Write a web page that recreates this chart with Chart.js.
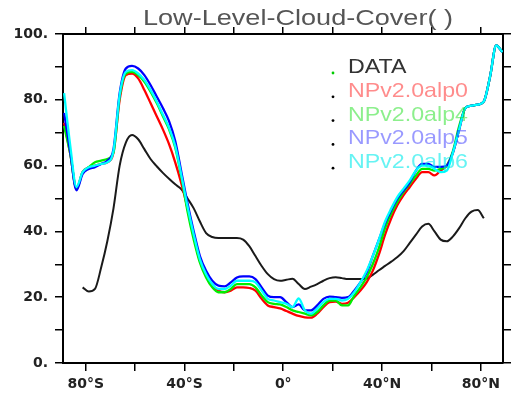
<!DOCTYPE html>
<html>
<head>
<meta charset="utf-8">
<script src="https://cdn.jsdelivr.net/npm/chart.js@4.4.0/dist/chart.umd.min.js"></script>
<style>
  html, body { margin: 0; padding: 0; background: #fff; }
  #wrap { width: 519px; height: 411px; }
</style>
</head>
<body>
<div id="wrap"><canvas id="c" width="519" height="411"></canvas></div>
<script>
// zonal mean low-level cloud cover (%), by latitude
const lats = [-88.75, -86.25, -83.75, -81.25, -78.75, -76.25, -73.75, -71.25, -68.75, -66.25,
  -63.75, -61.25, -58.75, -56.25, -53.75, -51.25, -48.75, -46.25, -43.75, -41.25,
  -38.75, -36.25, -33.75, -31.25, -28.75, -26.25, -23.75, -21.25, -18.75, -16.25,
  -13.75, -11.25, -8.75, -6.25, -3.75, -1.25, 1.25, 3.75, 6.25, 8.75,
  11.25, 13.75, 16.25, 18.75, 21.25, 23.75, 26.25, 28.75, 31.25, 33.75,
  36.25, 38.75, 41.25, 43.75, 46.25, 48.75, 51.25, 53.75, 56.25, 58.75,
  61.25, 63.75, 66.25, 68.75, 71.25, 73.75, 76.25, 78.75, 81.25, 83.75,
  86.25, 88.75];

const obsData = [null, null, null, 23, 21.7, 22.5, 29, 37, 47, 60,
  67, 69.3, 68, 65, 62, 59.8, 57.8, 56, 54.3, 52.8,
  50, 47, 43, 39.5, 38.3, 38, 38, 38, 38, 37.5,
  35.5, 32.5, 29.5, 27, 25.5, 25, 25.3, 25.6, 24, 22.5,
  23.2, 24, 25, 25.8, 26.1, 25.8, 25.5, 25.5, 25.5, 25.7,
  26.8, 28.2, 29.5, 30.8, 32.2, 34, 36.5, 39, 41.5, 42.3,
  40, 37.5, 37, 38.5, 41, 44, 46, 46.5, 44, null,
  null, null];

const alp0 = [73, 63.5, 53, 58, 59.5, 60, 60.5, 61, 64, 80,
  87.5, 88, 86.5, 83, 79, 75, 71, 66.5, 61, 54.5,
  47, 38.5, 31, 26.5, 23.5, 22, 21.5, 22, 23, 23,
  22.8, 22, 19.5, 17.5, 17, 16.6, 15.8, 15, 14.3, 13.9,
  13.8, 15, 17, 18.5, 18.7, 18, 18.3, 20, 22, 24.5,
  28, 33, 39, 44, 48, 51, 53.5, 56, 58, 58,
  57, 58.5, 60, 64, 71, 77.5, 78.2, 78.5, 79.5, 87,
  96.5, 94.5];

const alp4 = [72, 63.5, 53, 58, 59.5, 61, 61.5, 62, 64, 81,
  88, 88.5, 87.5, 85.5, 82.5, 79, 75, 71, 65.5, 56.5,
  46, 37.5, 30.5, 26, 23, 21.5, 21.5, 22.5, 24, 24,
  24, 23, 20.5, 18.5, 18, 17.8, 17, 16, 15.5, 15,
  14.5, 15.5, 17.5, 19, 19, 17.5, 17.5, 20.5, 23, 26,
  30, 35, 41, 45.5, 49, 52, 54.5, 57, 59, 59,
  58.5, 59, 60, 64.5, 72, 77.5, 78.2, 78.5, 79.5, 87,
  96.5, 94.5];

const alp5 = [76, 64, 52.5, 57.5, 59, 59.5, 60.5, 61.5, 65, 82,
  89.5, 90.3, 89.5, 87.5, 84.5, 81, 77.5, 73.5, 67.5, 58,
  48.5, 40, 32.5, 28, 25, 23.5, 23.3, 24.5, 26, 26.3,
  26.3, 25.5, 23, 20.5, 20, 20, 18.5, 17, 17.8, 16,
  16, 17.5, 19.5, 20.2, 20, 19.8, 20, 22, 24.5, 27.5,
  32.5, 37.5, 42.5, 46.5, 50, 52.5, 55, 58.5, 60.5, 60.5,
  59.6, 59.6, 60, 64, 71, 77.5, 78.2, 78.5, 79.5, 87,
  96.5, 94.5];

const alp6 = [82, 66, 53.5, 58, 59.5, 60, 60.5, 61, 64.5, 81.5,
  88.5, 89, 88, 86, 83, 79.5, 75.5, 71.5, 66, 57,
  47.5, 39, 31.5, 27, 24, 22.5, 22.5, 23.5, 25, 25,
  25, 24.5, 22, 19.5, 19, 18.5, 18, 17, 19.6, 16,
  15, 16.5, 18.5, 19.5, 19.5, 19, 19.5, 21.5, 24.5, 28,
  32.5, 37.5, 43, 47, 50.5, 53, 55.5, 58.5, 60, 60,
  59, 58, 58.5, 64, 71, 77.5, 78.2, 78.5, 79.5, 87,
  96.5, 94.5];

const seriesNames = ['DATA', 'NPv2.0alp0', 'NPv2.0alp4', 'NPv2.0alp5', 'NPv2.0alp6'];
const seriesColors = ['#1a1a1a', '#ff0000', '#00ee00', '#0000ff', '#00ffff'];
const textColors = ['#333333', 'rgba(255,0,0,0.45)', 'rgba(0,220,0,0.45)', 'rgba(0,0,255,0.4)', 'rgba(0,235,235,0.6)'];
const dotColors = ['#00cc00', '#000', '#000', '#000', '#000'];

const xTickValues = [-80, -60, -40, -20, 0, 20, 40, 60, 80];
const xTickLabels = ['80°S', '', '40°S', '', '0°', '', '40°N', '', '80°N'];
const chartTitle = 'Low-Level-Cloud-Cover( )';

const allSeries = [obsData, alp0, alp4, alp5, alp6];

function pairs(vals) {
  return lats.map((la, i) => ({ x: la, y: vals[i] }));
}

const datasets = allSeries.map((vals, i) => ({
  label: seriesNames[i],
  data: pairs(vals),
  borderColor: seriesColors[i],
  borderWidth: i === 0 ? 2 : 2.3,
  pointRadius: 0,
  cubicInterpolationMode: 'monotone',
  spanGaps: false,
  order: allSeries.length - i
}));

const tickFont = { family: 'DejaVu Sans', weight: 'bold', size: 14 };

function setXTicks(scale) {
  scale.ticks = xTickValues.map(v => ({ value: v }));
}

// title and NCL-style text legend
const overlay = {
  id: 'overlay',
  afterDraw(chart) {
    const ctx = chart.ctx;
    ctx.save();
    ctx.textBaseline = 'alphabetic';
    ctx.textAlign = 'left';

    ctx.font = '22px "Liberation Sans"';
    ctx.fillStyle = '#555';
    const tw = ctx.measureText(chartTitle).width;
    ctx.save();
    ctx.translate(143, 25);
    ctx.scale(310 / tw, 1);
    ctx.fillText(chartTitle, 0, 0);
    ctx.restore();

    ctx.font = '21px "Liberation Sans"';
    const sx = 120 / ctx.measureText(seriesNames[1]).width;
    seriesNames.forEach((name, i) => {
      const base = 73 + i * 23.8;
      ctx.fillStyle = dotColors[i];
      ctx.beginPath();
      ctx.arc(333, base, 1.4, 0, Math.PI * 2);
      ctx.fill();
      ctx.save();
      ctx.translate(348, base);
      ctx.scale(sx, 1);
      ctx.fillStyle = textColors[i];
      ctx.fillText(name, 0, 0);
      ctx.restore();
    });
    ctx.restore();
  }
};

new Chart(document.getElementById('c'), {
  type: 'line',
  data: { datasets },
  options: {
    responsive: false,
    animation: false,
    devicePixelRatio: 1,
    layout: { padding: { top: 24, right: 6, left: 0, bottom: 0 } },
    plugins: { legend: { display: false }, tooltip: { enabled: false } },
    scales: {
      x: {
        type: 'linear', position: 'bottom', min: -89.2, max: 89,
        afterBuildTicks: setXTicks,
        afterFit: s => { s.height = 48; },
        ticks: {
          callback: v => xTickLabels[xTickValues.indexOf(v)] || '',
          font: tickFont, color: '#222', padding: 5, maxRotation: 0, autoSkip: false
        },
        grid: { drawOnChartArea: false, drawTicks: true, tickLength: 8, color: '#000', lineWidth: 1.5 },
        border: { color: '#000', width: 2 }
      },
      x2: {
        type: 'linear', position: 'top', min: -89.2, max: 89,
        afterBuildTicks: setXTicks,
        afterFit: s => { s.height = 10; },
        ticks: { display: false },
        grid: { drawOnChartArea: false, drawTicks: true, tickLength: 7, color: '#000', lineWidth: 1.5 },
        border: { color: '#000', width: 2 }
      },
      y: {
        type: 'linear', position: 'left', min: 0, max: 100,
        afterFit: s => { s.width = 63; },
        ticks: {
          stepSize: 10,
          callback: v => (v % 20 === 0 ? v + '.' : ''),
          font: tickFont, color: '#222', padding: 7
        },
        grid: { drawOnChartArea: false, drawTicks: true, tickLength: 8, color: '#000', lineWidth: 1.5 },
        border: { color: '#000', width: 2 }
      },
      y2: {
        type: 'linear', position: 'right', min: 0, max: 100,
        afterFit: s => { s.width = 10; },
        ticks: { stepSize: 10, display: false },
        grid: { drawOnChartArea: false, drawTicks: true, tickLength: 8, color: '#000', lineWidth: 1.5 },
        border: { color: '#000', width: 2 }
      }
    }
  },
  plugins: [overlay]
});
</script>
</body>
</html>
